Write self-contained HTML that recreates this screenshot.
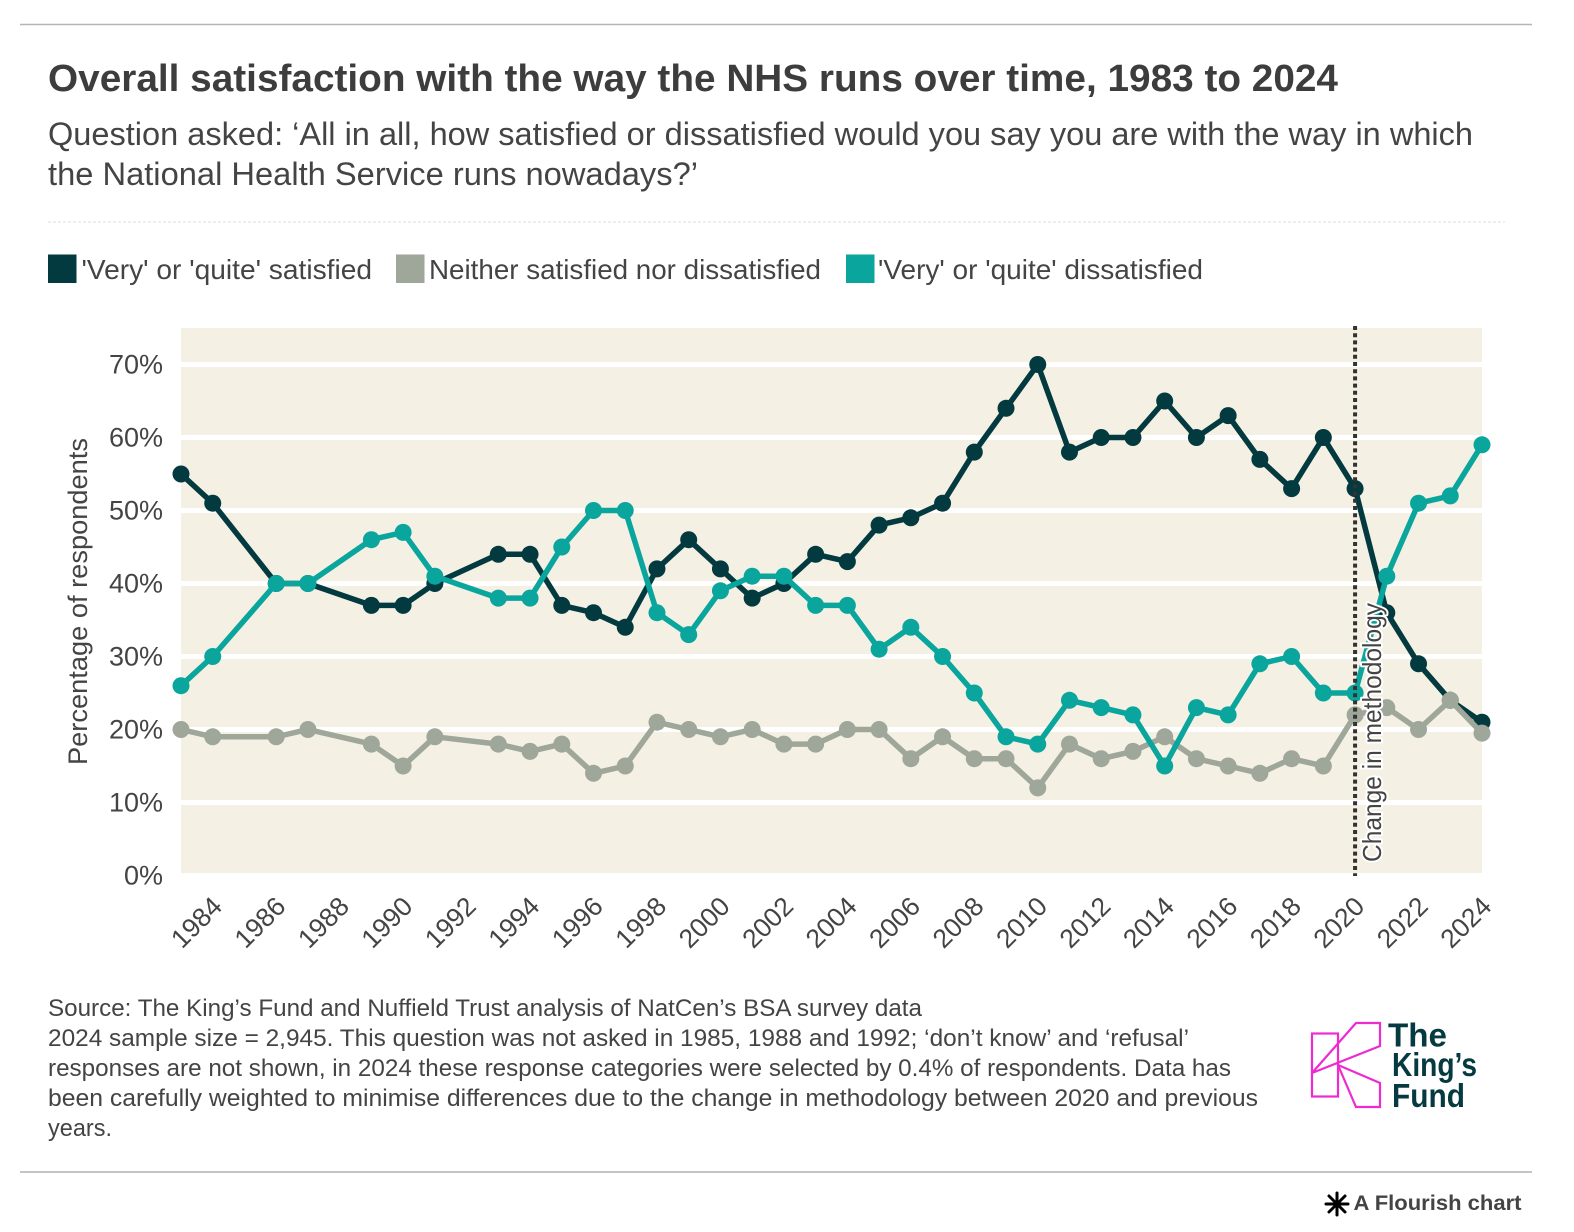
<!DOCTYPE html>
<html lang="en">
<head>
<meta charset="utf-8">
<title>Overall satisfaction with the way the NHS runs over time</title>
<style>
html,body{margin:0;padding:0;background:#fff;width:1574px;height:1232px;overflow:hidden}
svg{display:block;font-family:"Liberation Sans",sans-serif}
</style>
</head>
<body>
<svg id="chart" xmlns="http://www.w3.org/2000/svg" width="1574" height="1232" viewBox="0 0 1574 1232">
  <line x1="20" y1="24.5" x2="1532" y2="24.5" stroke="#b5b5b5" stroke-width="1.5"/>
  <text x="48" y="91" font-size="38" font-weight="700" fill="#3d3d3d" textLength="1290" lengthAdjust="spacingAndGlyphs">Overall satisfaction with the way the NHS runs over time, 1983 to 2024</text>
  <text x="48" y="145" font-size="32" fill="#444" textLength="1425" lengthAdjust="spacingAndGlyphs">Question asked: ‘All in all, how satisfied or dissatisfied would you say you are with the way in which</text>
  <text x="48" y="185" font-size="32" fill="#444" textLength="650" lengthAdjust="spacingAndGlyphs">the National Health Service runs nowadays?’</text>
  <line x1="48" y1="222" x2="1505" y2="222" stroke="#ddd" stroke-width="1" stroke-dasharray="3 2"/>

  <g>
    <rect x="48" y="254.500" width="28.500" height="28.500" fill="#033a3f"/>
    <text x="81.500" y="279" font-size="28" fill="#444" textLength="290.500" lengthAdjust="spacingAndGlyphs">'Very' or 'quite' satisfied</text>
    <rect x="396" y="254.500" width="28.500" height="28.500" fill="#9fa69a"/>
    <text x="429" y="279" font-size="28" fill="#444" textLength="392" lengthAdjust="spacingAndGlyphs">Neither satisfied nor dissatisfied</text>
    <rect x="846" y="254.500" width="28.500" height="28.500" fill="#0aa59c"/>
    <text x="878" y="279" font-size="28" fill="#444" textLength="325" lengthAdjust="spacingAndGlyphs">'Very' or 'quite' dissatisfied</text>
  </g>

  <rect x="181" y="328" width="1301" height="545" fill="#f5f0e4"/>
  <g id="grid"></g>
  <g id="yticks"></g>
  <g id="xticks"></g>
  <text transform="translate(87,765) rotate(-90)" font-size="27" fill="#444" textLength="327" lengthAdjust="spacingAndGlyphs">Percentage of respondents</text>
  <g id="series"></g>
  <line id="annot-line" y1="326" y2="876" stroke="#333" stroke-width="4" stroke-dasharray="4 3.200"/>
  <text id="annot-label" font-size="26" fill="#444" stroke="#fff" stroke-width="4" paint-order="stroke" stroke-linejoin="round" textLength="259" lengthAdjust="spacingAndGlyphs">Change in methodology</text>

  <g font-size="24" fill="#444">
    <text x="48" y="1016" textLength="874" lengthAdjust="spacingAndGlyphs">Source: The King’s Fund and Nuffield Trust analysis of NatCen’s BSA survey data</text>
    <text x="48" y="1046" textLength="1141" lengthAdjust="spacingAndGlyphs">2024 sample size = 2,945. This question was not asked in 1985, 1988 and 1992; ‘don’t know’ and ‘refusal’</text>
    <text x="48" y="1076" textLength="1183" lengthAdjust="spacingAndGlyphs">responses are not shown, in 2024 these response categories were selected by 0.4% of respondents. Data has</text>
    <text x="48" y="1106" textLength="1210" lengthAdjust="spacingAndGlyphs">been carefully weighted to minimise differences due to the change in methodology between 2020 and previous</text>
    <text x="48" y="1136" textLength="64" lengthAdjust="spacingAndGlyphs">years.</text>
  </g>

  <g>
    <g fill="none" stroke="#ee2bd0" stroke-width="2.200" stroke-linejoin="miter">
      <rect x="1312" y="1033.500" width="26" height="63"/>
      <path d="M1312 1073 L1356 1023 L1380 1023 L1380 1046 Z"/>
      <path d="M1338 1065 L1380 1083 L1380 1107 L1356 1107 Z"/>
    </g>
    <g font-size="33" font-weight="700" fill="#053a40">
      <text x="1388" y="1046.500" textLength="59" lengthAdjust="spacingAndGlyphs">The</text>
      <text x="1392" y="1076" textLength="85" lengthAdjust="spacingAndGlyphs">King’s</text>
      <text x="1392" y="1107" textLength="73" lengthAdjust="spacingAndGlyphs">Fund</text>
    </g>
  </g>

  <line x1="20" y1="1172" x2="1532" y2="1172" stroke="#b0b0b0" stroke-width="1.500"/>
  <g>
    <g stroke="#000" stroke-width="3" stroke-linecap="round" transform="translate(1337,1204)">
      <line x1="-11" y1="0" x2="11" y2="0"/>
      <line x1="0" y1="-11" x2="0" y2="11"/>
      <line x1="-8" y1="-8" x2="8" y2="8"/>
      <line x1="-8" y1="8" x2="8" y2="-8"/>
    </g>
    <text x="1353.500" y="1210" font-size="21.500" font-weight="700" fill="#444" textLength="168" lengthAdjust="spacingAndGlyphs">A Flourish chart</text>
  </g>
</svg>
<script>
const years = [1983,1984,1986,1987,1989,1990,1991,1993,1994,1995,1996,1997,1998,1999,2000,2001,2002,2003,2004,2005,2006,2007,2008,2009,2010,2011,2012,2013,2014,2015,2016,2017,2018,2019,2020,2021,2022,2023,2024];
const satisfied = [55,51,40,40,37,37,40,44,44,37,36,34,42,46,42,38,40,44,43,48,49,51,58,64,70,58,60,60,65,60,63,57,53,60,53,36,29,24,21];
const neither = [20,19,19,20,18,15,19,18,17,18,14,15,21,20,19,20,18,18,20,20,16,19,16,16,12,18,16,17,19,16,15,14,16,15,22,23,20,24,19.5];
const dissatisfied = [26,30,40,40,46,47,41,38,38,45,50,50,36,33,39,41,41,37,37,31,34,30,25,19,18,24,23,22,15,23,22,29,30,25,25,41,51,52,59];
const yTickValues = [0,10,20,30,40,50,60,70];
const xTickYears = [1984,1986,1988,1990,1992,1994,1996,1998,2000,2002,2004,2006,2008,2010,2012,2014,2016,2018,2020,2022,2024];
const changeYear = 2020;

const NS = 'http://www.w3.org/2000/svg';
function xScale(year){ return 181 + (year - 1983) * (1301 / 41); }
function yScale(v){ return 875.5 - v * 7.3; }
function make(tag, parent){
  const el = document.createElementNS(NS, tag);
  parent.appendChild(el);
  return el;
}

const grid = document.getElementById('grid');
const yticks = document.getElementById('yticks');
yTickValues.forEach(function(v){
  const ln = make('line', grid);
  
  
  ln.setAttribute('x1', 181);
  ln.setAttribute('x2', 1482);
  ln.setAttribute('y1', yScale(v));
  ln.setAttribute('y2', yScale(v));
  ln.setAttribute('stroke', '#fff');
  ln.setAttribute('stroke-width', 5);
  const t = make('text', yticks);
  
  
  t.setAttribute('x', 163);
  t.setAttribute('y', yScale(v) + 9);
  t.setAttribute('text-anchor', 'end');
  t.setAttribute('font-size', 27);
  t.setAttribute('fill', '#444');
  t.textContent = v + '%';
});

const xticks = document.getElementById('xticks');
xTickYears.forEach(function(y){
  const t = make('text', xticks);
  
  
  t.setAttribute('text-anchor', 'end');
  t.setAttribute('font-size', 26.5);
  t.setAttribute('fill', '#444');
  t.setAttribute('transform', 'translate(' + (xScale(y) + 11) + ',908) rotate(-45)');
  t.textContent = String(y);
});

const seriesLayer = document.getElementById('series');
function drawSeries(values, color, name){
  const g = make('g', seriesLayer);
  
  
  const line = make('polyline', g);
  
  
  line.setAttribute('fill', 'none');
  line.setAttribute('stroke', color);
  line.setAttribute('stroke-width', 5.5);
  line.setAttribute('stroke-linejoin', 'round');
  line.setAttribute('points', values.map(function(v, i){ return xScale(years[i]) + ',' + yScale(v); }).join(' '));
  values.forEach(function(v, i){
    const c = make('circle', g);
    
    
    c.setAttribute('cx', xScale(years[i]));
    c.setAttribute('cy', yScale(v));
    c.setAttribute('r', 8.5);
    c.setAttribute('fill', color);
  });
}
drawSeries(satisfied, '#033a3f', 'series-very-or-quite-satisfied');
drawSeries(neither, '#9fa69a', 'series-neither');
drawSeries(dissatisfied, '#0aa59c', 'series-very-or-quite-dissatisfied');

const annotLine = document.getElementById('annot-line');
annotLine.setAttribute('x1', xScale(changeYear));
annotLine.setAttribute('x2', xScale(changeYear));
const annotLabel = document.getElementById('annot-label');
annotLabel.setAttribute('transform', 'translate(' + (xScale(changeYear) + 26) + ',862) rotate(-90)');
</script>
</body>
</html>
